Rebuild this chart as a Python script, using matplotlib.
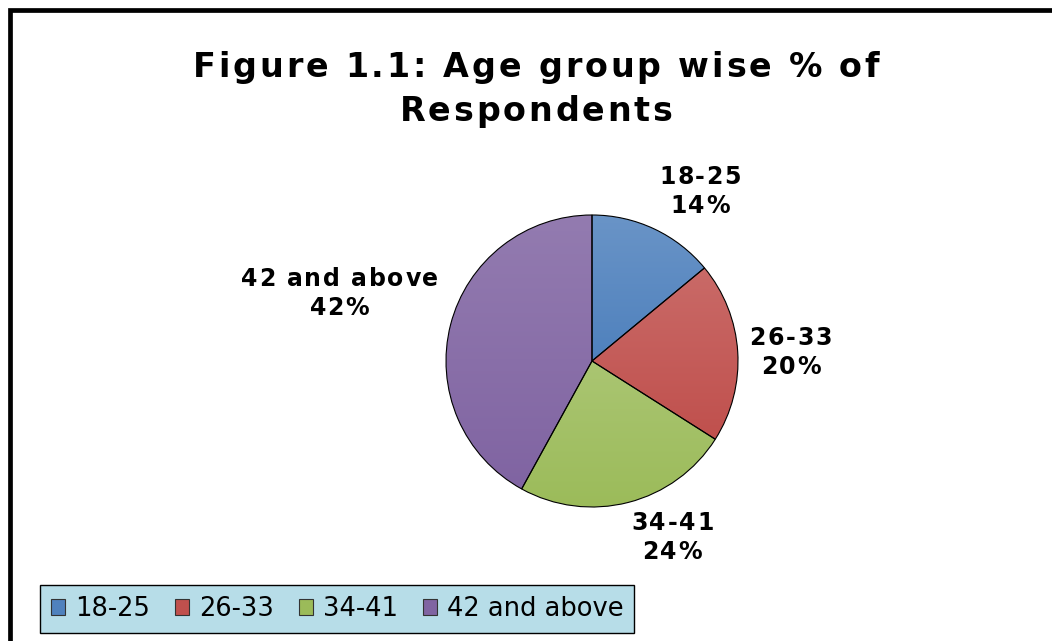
import numpy as np
import matplotlib
matplotlib.use("Agg")
import matplotlib.pyplot as plt
from matplotlib.patches import Patch, Rectangle
from matplotlib.colors import to_rgb
from matplotlib.font_manager import FontProperties

# data
age_groups = ["18-25", "26-33", "34-41", "42 and above"]
shares = [14, 20, 24, 42]
base_colors = ["#4f81bd", "#c0504d", "#9bbb59", "#8064a2"]

W, H = 1052, 641
fig = plt.figure(figsize=(W / 100, H / 100), dpi=100)
fig.patch.set_facecolor("white")
renderer = fig.canvas.get_renderer()


def tracked_text(cx, cy, lines, size, weight, track_em, pitch):
    """Draw letter-spaced, centred lines; cx, cy = block centre in display px."""
    prop = FontProperties(family="DejaVu Sans", size=size, weight=weight)
    px = size * 100 / 72
    track = track_em * px
    cap = 0.729 * px
    n = len(lines)
    for k, line in enumerate(lines):
        base_y = cy + (n - 1) / 2 * pitch - k * pitch - cap / 2
        full = renderer.get_text_width_height_descent(line, prop, ismath=False)[0]
        total = full + track * (len(line) - 1)
        x0 = cx - total / 2
        for i, ch in enumerate(line):
            if ch == " ":
                continue
            pre = renderer.get_text_width_height_descent(line[:i + 1], prop, ismath=False)[0]
            cw = renderer.get_text_width_height_descent(ch, prop, ismath=False)[0]
            x = x0 + pre - cw + i * track
            fig.text(x / W, base_y / H, ch, fontproperties=prop,
                     ha="left", va="baseline")


# black frame round the chart (runs off right/bottom edges)
fig.patches.append(Rectangle((10 / W, -0.2), 1.5, (H - 10) / H + 0.2,
                             transform=fig.transFigure, fill=False,
                             edgecolor="black", linewidth=3.4))

tracked_text(536, H - 87, ["Figure 1.1: Age group wise % of", "Respondents"],
             24, "bold", 0.085, 44)

# pie axes: centre (592, 361), radius 146 px
cx, cy, r = 592, 361, 146
ax = fig.add_axes([(cx - r) / W, (H - cy - r) / H, 2 * r / W, 2 * r / H])
wedges, _ = ax.pie(shares, colors=base_colors, startangle=90, counterclock=False,
                   wedgeprops=dict(edgecolor="black", linewidth=0.8))

# soft vertical gradient inside each wedge, lighter at the top
for w, col in zip(wedges, base_colors):
    verts = w.get_path().vertices
    x0, x1 = verts[:, 0].min(), verts[:, 0].max()
    y0, y1 = verts[:, 1].min(), verts[:, 1].max()
    base = np.array(to_rgb(col))
    top = base + (1 - base) * 0.15
    t = np.linspace(0, 1, 100)[:, None]
    grad = top * (1 - t) + base * t
    img = ax.imshow(grad[:, None, :].repeat(2, axis=1), extent=(x0, x1, y0, y1),
                    origin="upper", aspect="auto", zorder=0.5, interpolation="bilinear")
    img.set_clip_path(w)
    w.set_facecolor("none")
    w.set_zorder(1)

ax.set_xlim(-1, 1)
ax.set_ylim(-1, 1)
ax.set_aspect("equal")
ax.axis("off")

# data labels (positions in pie data units)
label_pos = [(0.74, 1.17), (1.36, 0.07), (0.55, -1.20), (-1.73, 0.47)]
for name, val, (lx, ly) in zip(age_groups, shares, label_pos):
    dx, dy = ax.transData.transform((lx, ly))
    tracked_text(dx, dy, [name, f"{val}%"], 17, "bold", 0.07, 29)

handles = [Patch(facecolor=c, edgecolor="#333333", linewidth=0.8) for c in base_colors]
leg = fig.legend(handles, age_groups, loc="lower left",
                 bbox_to_anchor=(40 / W, 8 / H), ncol=4, fontsize=18.5,
                 frameon=True, fancybox=False, framealpha=1,
                 handlelength=0.55, handleheight=0.55, handletextpad=0.38,
                 columnspacing=0.98, borderpad=0.42, borderaxespad=0)
leg.get_frame().set_facecolor("#b7dde8")
leg.get_frame().set_edgecolor("black")
leg.get_frame().set_linewidth(1.0)

fig.savefig("out.png", dpi=100)
